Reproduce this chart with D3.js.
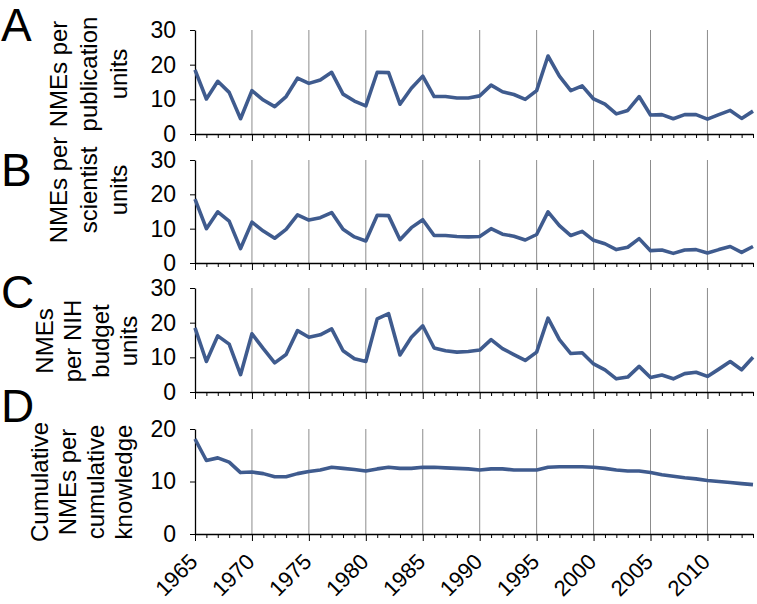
<!DOCTYPE html>
<html>
<head>
<meta charset="utf-8">
<script src="https://cdn.jsdelivr.net/npm/d3@7"></script>
<style>
  html, body { margin: 0; padding: 0; background: #fff; }
  svg { display: block; font-family: "Liberation Sans", Arial, Helvetica, sans-serif; }
</style>
</head>
<body>
<svg id="chart" width="757" height="604"></svg>
<script>
const years = d3.range(1965, 2015);

const perPublication = [18.5, 10.1, 15.2, 12.0, 4.4, 12.5, 9.8, 7.9, 10.8, 16.1,
  14.6, 15.6, 17.8, 11.5, 9.5, 8.1, 17.8, 17.7, 8.6, 13.2,
  16.7, 10.8, 10.8, 10.4, 10.4, 11.0, 14.1, 12.2, 11.4, 10.0,
  12.5, 22.5, 16.7, 12.5, 13.9, 10.1, 8.6, 5.8, 6.8, 10.8,
  5.5, 5.6, 4.4, 5.6, 5.6, 4.3, 5.6, 6.8, 4.5, 6.6];

const perScientist = [18.6, 10.0, 14.9, 12.2, 4.2, 11.9, 9.3, 7.2, 9.8, 14.0,
  12.5, 13.2, 14.7, 9.8, 7.6, 6.4, 13.9, 13.8, 6.8, 10.3,
  12.6, 8.0, 8.0, 7.7, 7.6, 7.7, 10.0, 8.4, 7.8, 6.7,
  8.3, 14.9, 10.9, 8.0, 9.2, 6.6, 5.6, 3.9, 4.6, 7.1,
  3.6, 3.8, 2.8, 3.8, 3.9, 2.9, 3.9, 4.8, 3.1, 4.8];

const perBudget = [18.5, 8.8, 16.2, 13.8, 5.0, 16.8, 12.5, 8.4, 10.8, 17.7,
  15.8, 16.5, 18.2, 11.9, 9.6, 8.8, 21.1, 22.6, 10.7, 15.8,
  19.1, 12.7, 11.9, 11.5, 11.7, 12.1, 15.1, 12.5, 10.8, 9.1,
  11.5, 21.3, 15.1, 11.1, 11.3, 8.1, 6.4, 3.8, 4.3, 7.4,
  4.2, 4.9, 3.8, 5.3, 5.7, 4.5, 6.6, 8.8, 6.4, 10.0];

const cumulative = [18.1, 14.0, 14.5, 13.7, 11.7, 11.8, 11.5, 10.9, 10.9, 11.5,
  11.9, 12.2, 12.7, 12.5, 12.3, 12.0, 12.4, 12.7, 12.5, 12.5,
  12.7, 12.7, 12.6, 12.5, 12.4, 12.2, 12.4, 12.4, 12.2, 12.2,
  12.2, 12.7, 12.8, 12.8, 12.8, 12.7, 12.5, 12.2, 12.0, 12.0,
  11.7, 11.3, 11.0, 10.7, 10.5, 10.2, 10.0, 9.8, 9.6, 9.4];

const panelLetters = ["A", "B", "C", "D"];
const panelTitles = [
  ["NMEs per", "publication", "units"],
  ["NMEs per", "scientist", "units"],
  ["NMEs", "per NIH", "budget", "units"],
  ["Cumulative", "NMEs per", "cumulative", "knowledge"]
];
const yTickValues = [[0, 10, 20, 30], [0, 10, 20, 30], [0, 10, 20, 30], [0, 10, 20]];
const yMax = [30, 30, 30, 20];
const xLabelYears = [1965, 1970, 1975, 1980, 1985, 1990, 1995, 2000, 2005, 2010];
const gridYears = [1970, 1975, 1980, 1985, 1990, 1995, 2000, 2005, 2010];
const series = [perPublication, perScientist, perBudget, cumulative];

// layout
const panelTop = [30, 160, 288, 429];
const panelBottom = [134, 263, 392, 534];
const titleCenterY = [74, 190, 341, 482];
const titleLastX = [118, 118, 128, 123];
const titleLineH = [30, 30, 28, 28];
const letterBaseline = [41, 186, 308, 422];
const left = 195, right = 753;
const lineColor = "#3f5b8e";

const svg = d3.select("#chart");
const x = d3.scaleLinear().domain([1965, 2014]).range([left, right]);

series.forEach((vals, i) => {
  const y = d3.scaleLinear().domain([0, yMax[i]]).range([panelBottom[i], panelTop[i]]);
  const g = svg.append("g");

  // gridlines
  g.selectAll("line.grid").data(gridYears).join("line")
    .attr("x1", d => x(d)).attr("x2", d => x(d))
    .attr("y1", panelTop[i]).attr("y2", panelBottom[i])
    .attr("stroke", "#8c8c8c").attr("stroke-width", 1);

  // x axis
  const xAxis = d3.axisBottom(x).tickValues(years).tickSize(4).tickFormat("").tickSizeOuter(0);
  const xg = g.append("g").attr("transform", `translate(0,${panelBottom[i]})`).call(xAxis);
  xg.select(".domain").attr("stroke", "#000").attr("stroke-width", 1.3);
  xg.selectAll(".tick line").attr("stroke", "#000")
    .attr("y2", d => (d % 5 === 0 ? 7 : 4));

  // y axis
  const yAxis = d3.axisLeft(y).tickValues(yTickValues[i]).tickSize(5).tickPadding(14).tickSizeOuter(0);
  const yg = g.append("g").attr("transform", `translate(${left},0)`).call(yAxis);
  yg.select(".domain").attr("stroke", "#000").attr("stroke-width", 1.3);
  yg.selectAll(".tick line").attr("stroke", "#000");
  yg.selectAll(".tick text").attr("font-size", 23).attr("fill", "#000")
    .attr("font-family", "'Liberation Sans', Arial, Helvetica, sans-serif");

  // line
  const line = d3.line().x((d, k) => x(years[k])).y(d => y(d));
  g.append("path").datum(vals)
    .attr("fill", "none").attr("stroke", lineColor)
    .attr("stroke-width", 3.6).attr("stroke-linejoin", "round")
    .attr("d", line);

  // panel letter
  svg.append("text").attr("x", 1).attr("y", letterBaseline[i])
    .attr("font-size", 46).attr("fill", "#000").text(panelLetters[i]);

  // y title
  const lines = panelTitles[i];
  const lh = titleLineH[i];
  const t = svg.append("text")
    .attr("transform", `translate(${titleLastX[i] - (lines.length - 1) * lh + 9},${titleCenterY[i]}) rotate(-90)`)
    .attr("text-anchor", "middle").attr("font-size", 24).attr("fill", "#000");
  lines.forEach((s, k) => {
    t.append("tspan").attr("x", 0).attr("y", k * lh).text(s);
  });
});

// x labels on the bottom
svg.selectAll("text.xl").data(xLabelYears).join("text")
  .attr("class", "xl")
  .attr("transform", d => `translate(${x(d) + 4},${563}) rotate(-45)`)
  .attr("text-anchor", "end")
  .attr("font-size", 22).attr("fill", "#000")
  .text(d => d);
</script>
</body>
</html>
